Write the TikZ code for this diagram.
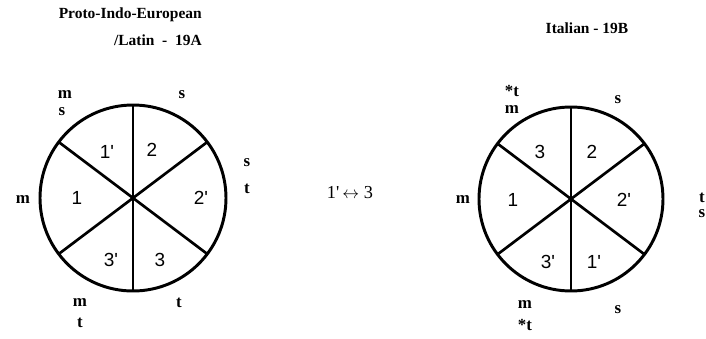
\documentclass[tikz,border=0pt]{standalone}
\usepackage{fontspec}
\setmainfont{Liberation Serif}
\newfontfamily\numfont{Liberation Sans}
\newfontfamily\plainserif{Liberation Serif}
\usetikzlibrary{calc}
\tikzstyle{title} = [font=\bfseries\fontsize{11}{11}\selectfont, inner sep=0pt]
\tikzstyle{lbl} = [font=\bfseries\fontsize{12}{12}\selectfont, inner sep=0pt]
\tikzstyle{sector} = [font=\numfont\fontsize{13.5}{13.5}\selectfont, inner sep=0pt]
\tikzstyle{swap} = [font=\plainserif\fontsize{13}{13}\selectfont, inner sep=0pt]
\tikzstyle{wheel} = [draw, line width=2.1pt]
\tikzstyle{spoke} = [draw, line width=1.9pt]
\begin{document}
\begin{tikzpicture}[x=0.025cm, y=0.025cm]
			\useasboundingbox (0,0) rectangle (706,338);
			% Place circles
			\coordinate (latin) at (133,140);
			\coordinate (ital) at (571,139);
			\path [wheel] (latin) circle (93);
			\path [spoke, line width=1.5pt] ($(latin)+(90:93)$) -- ($(latin)+(270:93)$);
			\path [spoke] ($(latin)+(143:92)$) -- ($(latin)+(323:92)$);
			\path [spoke] ($(latin)+(37:92)$) -- ($(latin)+(217:92)$);
			\path [wheel] (ital) circle (92);
			\path [spoke, line width=1.5pt] ($(ital)+(90:92)$) -- ($(ital)+(270:92)$);
			\path [spoke] ($(ital)+(143:91)$) -- ($(ital)+(323:91)$);
			\path [spoke] ($(ital)+(37:91)$) -- ($(ital)+(217:91)$);
			% Titles
			\node [title, anchor=east] (latin-t1) at (202,323) {Proto-Indo-European};
			\node [title, anchor=east] (latin-t2) at (202,298) {/Latin\ \ -\ \ 19A};
			\node [title] (ital-t) at (587,310) {Italian - 19B};
			% Sectors, left
			\node [sector] (l-1p) at ($(latin)+(-26,46)$) {1'};
			\node [sector] (l-2) at ($(latin)+(19,48)$) {2};
			\node [sector] (l-1) at ($(latin)+(-56,0)$) {1};
			\node [sector] (l-2p) at ($(latin)+(68,0)$) {2'};
			\node [sector] (l-3p) at ($(latin)+(-22,-62)$) {3'};
			\node [sector] (l-3) at ($(latin)+(27,-62)$) {3};
			% Sectors, right
			\node [sector] (r-3) at ($(ital)+(-31,47)$) {3};
			\node [sector] (r-2) at ($(ital)+(21,47)$) {2};
			\node [sector] (r-1) at ($(ital)+(-58,-1)$) {1};
			\node [sector] (r-2p) at ($(ital)+(53,-1)$) {2'};
			\node [sector] (r-3p) at ($(ital)+(-23,-63)$) {3'};
			\node [sector] (r-1p) at ($(ital)+(23,-63)$) {1'};
			% Sounds, left
			\node [lbl] (l-m1) at (65,243) {m};
			\node [lbl] (l-s1) at (62,226) {s};
			\node [lbl] (l-s2) at (182,243) {s};
			\node [lbl] (l-s3) at (247,175) {s};
			\node [lbl] (l-t1) at (247,149) {t};
			\node [lbl] (l-m2) at (23,138) {m};
			\node [lbl] (l-m3) at (80,35) {m};
			\node [lbl] (l-t2) at (80,15) {t};
			\node [lbl] (l-t3) at (179,35) {t};
			% Sounds, right
			\node [lbl] (r-t1) at (512,247) {*t};
			\node [lbl] (r-m1) at (512,228) {m};
			\node [lbl] (r-s1) at (618,238) {s};
			\node [lbl] (r-t2) at (702,140) {t};
			\node [lbl] (r-s2) at (702,124) {s};
			\node [lbl] (r-m2) at (463,138) {m};
			\node [lbl] (r-m3) at (525,33) {m};
			\node [lbl] (r-t3) at (525,13) {*t};
			\node [lbl] (r-s3) at (618,28) {s};
			% Swap
			\node [swap] (swap) at (350,145) {1'\,$\leftrightarrow$\ 3};
\end{tikzpicture}
\end{document}
